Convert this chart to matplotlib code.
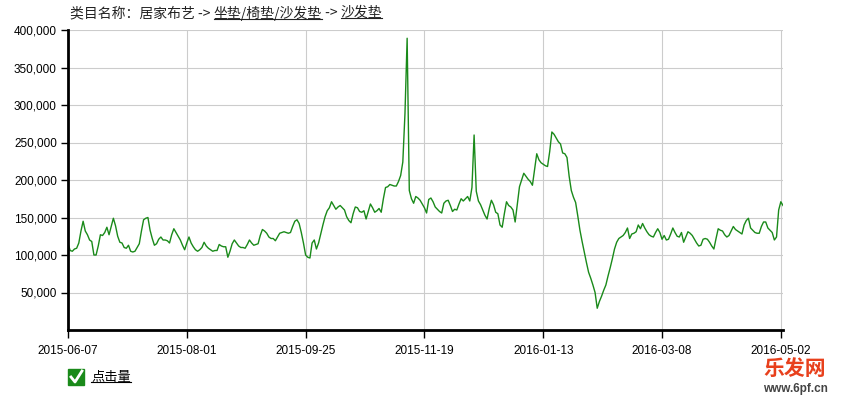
import numpy as np
import pandas as pd
import matplotlib
matplotlib.use('Agg')
import matplotlib.pyplot as plt
from matplotlib.ticker import FuncFormatter
from matplotlib.patches import Rectangle

plt.rcParams['font.family'] = ['Liberation Sans', 'Noto Sans CJK SC', 'DejaVu Sans']

# daily clicks, in thousands, 2015-06-07 .. 2016-05-03
clicks_k = [
    115, 106, 105, 108, 109, 116, 132, 145, 132, 127,
    120, 118, 100, 100, 112, 127, 126, 130, 137, 127,
    138, 149, 139, 125, 117, 116, 110, 109, 113, 105,
    104, 105, 110, 115, 132, 147, 149, 150, 133, 122,
    113, 115, 121, 124, 120, 120, 119, 116, 127, 135,
    130, 125, 120, 113, 107, 116, 124, 116, 111, 107,
    105, 107, 110, 117, 112, 109, 107, 105, 106, 106,
    114, 112, 111, 111, 97, 105, 115, 120, 116, 112,
    110, 110, 109, 114, 120, 116, 113, 114, 115, 126,
    134, 132, 129, 124, 122, 122, 119, 124, 129, 130,
    131, 130, 129, 130, 138, 145, 147, 142, 130, 116,
    100, 97, 96, 116, 120, 108, 116, 128, 140, 151,
    159, 163, 171, 166, 161, 164, 166, 163, 160, 151,
    146, 143, 155, 164, 163, 158, 157, 159, 148, 158,
    168, 163, 157, 159, 162, 157, 175, 190, 191, 194,
    193, 192, 192, 198, 206, 224, 289, 389, 186, 175,
    169, 178, 176, 173, 168, 163, 156, 174, 176, 171,
    164, 161, 158, 156, 169, 172, 173, 166, 158, 161,
    160, 168, 175, 172, 175, 178, 172, 190, 260, 185,
    172, 167, 160, 153, 148, 162, 173, 167, 157, 155,
    140, 137, 155, 171, 166, 164, 160, 144, 168, 191,
    200, 209, 205, 201, 198, 193, 214, 235, 227, 223,
    221, 219, 218, 238, 264, 261, 256, 251, 248, 236,
    235, 230, 205, 186, 177, 170, 152, 133, 118, 104,
    90, 77, 69, 60, 50, 29, 38, 45, 53, 60,
    72, 83, 95, 108, 117, 122, 124, 126, 130, 136,
    122, 128, 129, 131, 140, 135, 142, 136, 131, 127,
    125, 124, 130, 135, 130, 121, 126, 120, 121, 128,
    136, 130, 125, 124, 130, 117, 124, 131, 129, 126,
    121, 116, 112, 113, 121, 122, 121, 117, 112, 108,
    122, 135, 133, 132, 127, 124, 126, 132, 138, 134,
    132, 130, 128, 140, 146, 149, 136, 133, 130, 129,
    129, 138, 144, 144, 136, 133, 130, 120, 124, 160,
    171, 166,
]
dates = pd.date_range('2015-06-07', periods=len(clicks_k), freq='D')
clicks = np.array(clicks_k) * 1000

tick_dates = pd.to_datetime(['2015-06-07', '2015-08-01', '2015-09-25', '2015-11-19',
                             '2016-01-13', '2016-03-08', '2016-05-02'])
ytick_vals = [50000, 100000, 150000, 200000, 250000, 300000, 350000, 400000]

title_parts = ['类目名称：居家布艺 -> ', '坐垫/椅垫/沙发垫', ' -> ', '沙发垫']
title_links = [False, True, False, True]
legend_label = '点击量'

fig = plt.figure(figsize=(8.45, 4.0), dpi=100)
ax = fig.add_axes([68 / 845, 70 / 400, 715 / 845, 300 / 400])

ax.plot(dates, clicks, color='#1a8a1a', lw=1.0)

ax.set_xlim(dates[0], dates[-1])
ax.set_ylim(0, 400000)
ax.set_xticks(tick_dates)
ax.set_xticklabels([d.strftime('%Y-%m-%d') for d in tick_dates], fontsize=8.5)
ax.set_yticks(ytick_vals)
ax.yaxis.set_major_formatter(FuncFormatter(lambda v, p: f'{int(v):,}'))
ax.tick_params(axis='y', labelsize=8.5, length=5, width=1, pad=3)
ax.tick_params(axis='x', length=6, width=1, pad=5)
ax.grid(True, color='#cccccc', lw=0.8)
ax.set_axisbelow(True)
for s in ['top', 'right']:
    ax.spines[s].set_visible(False)
for s in ['left', 'bottom']:
    ax.spines[s].set_linewidth(2)
    ax.spines[s].set_color('black')

# title with underlined links
fig.canvas.draw()
r = fig.canvas.get_renderer()
x = 70 / 845
y = 1 - 13 / 400
for txt, link in zip(title_parts, title_links):
    t = fig.text(x, y, txt, fontsize=10, va='center', ha='left', color='#222222',
                 family=['Noto Sans CJK SC', 'DejaVu Sans'])
    bb = t.get_window_extent(renderer=r).transformed(fig.transFigure.inverted())
    if link:
        fig.add_artist(plt.Line2D([bb.x0, bb.x1], [bb.y0 + 0.004, bb.y0 + 0.004],
                                  color='#222222', lw=0.8, transform=fig.transFigure))
    x = bb.x1

# legend: green checkbox + underlined label
fig.add_artist(Rectangle((68 / 845, 1 - 385 / 400), 16 / 845, 16 / 400,
                         transform=fig.transFigure, color='#1a8a1a'))
fig.add_artist(plt.Line2D([71 / 845, 75 / 845, 82 / 845],
                          [1 - 377 / 400, 1 - 382 / 400, 1 - 371 / 400],
                          color='white', lw=2, transform=fig.transFigure))
lt = fig.text(91 / 845, 1 - 377 / 400, legend_label, fontsize=9.5, va='center', ha='left',
              family=['Noto Sans CJK SC', 'DejaVu Sans'])
bb = lt.get_window_extent(renderer=r).transformed(fig.transFigure.inverted())
fig.add_artist(plt.Line2D([bb.x0, bb.x1], [bb.y0 + 0.004, bb.y0 + 0.004],
                          color='black', lw=0.8, transform=fig.transFigure))

# watermark, kept just below the last tick label
fig.text(795 / 845, 1 - 368 / 400, '乐发网', fontsize=15, color='#e8401c', ha='center',
         va='center', fontweight='bold', family=['Noto Sans CJK SC', 'DejaVu Sans'])
fig.text(795 / 845, 1 - 389 / 400, 'www.6pf.cn', fontsize=8.5, color='#444444', ha='center',
         va='center', fontweight='bold')

fig.savefig('out.png', dpi=100)
